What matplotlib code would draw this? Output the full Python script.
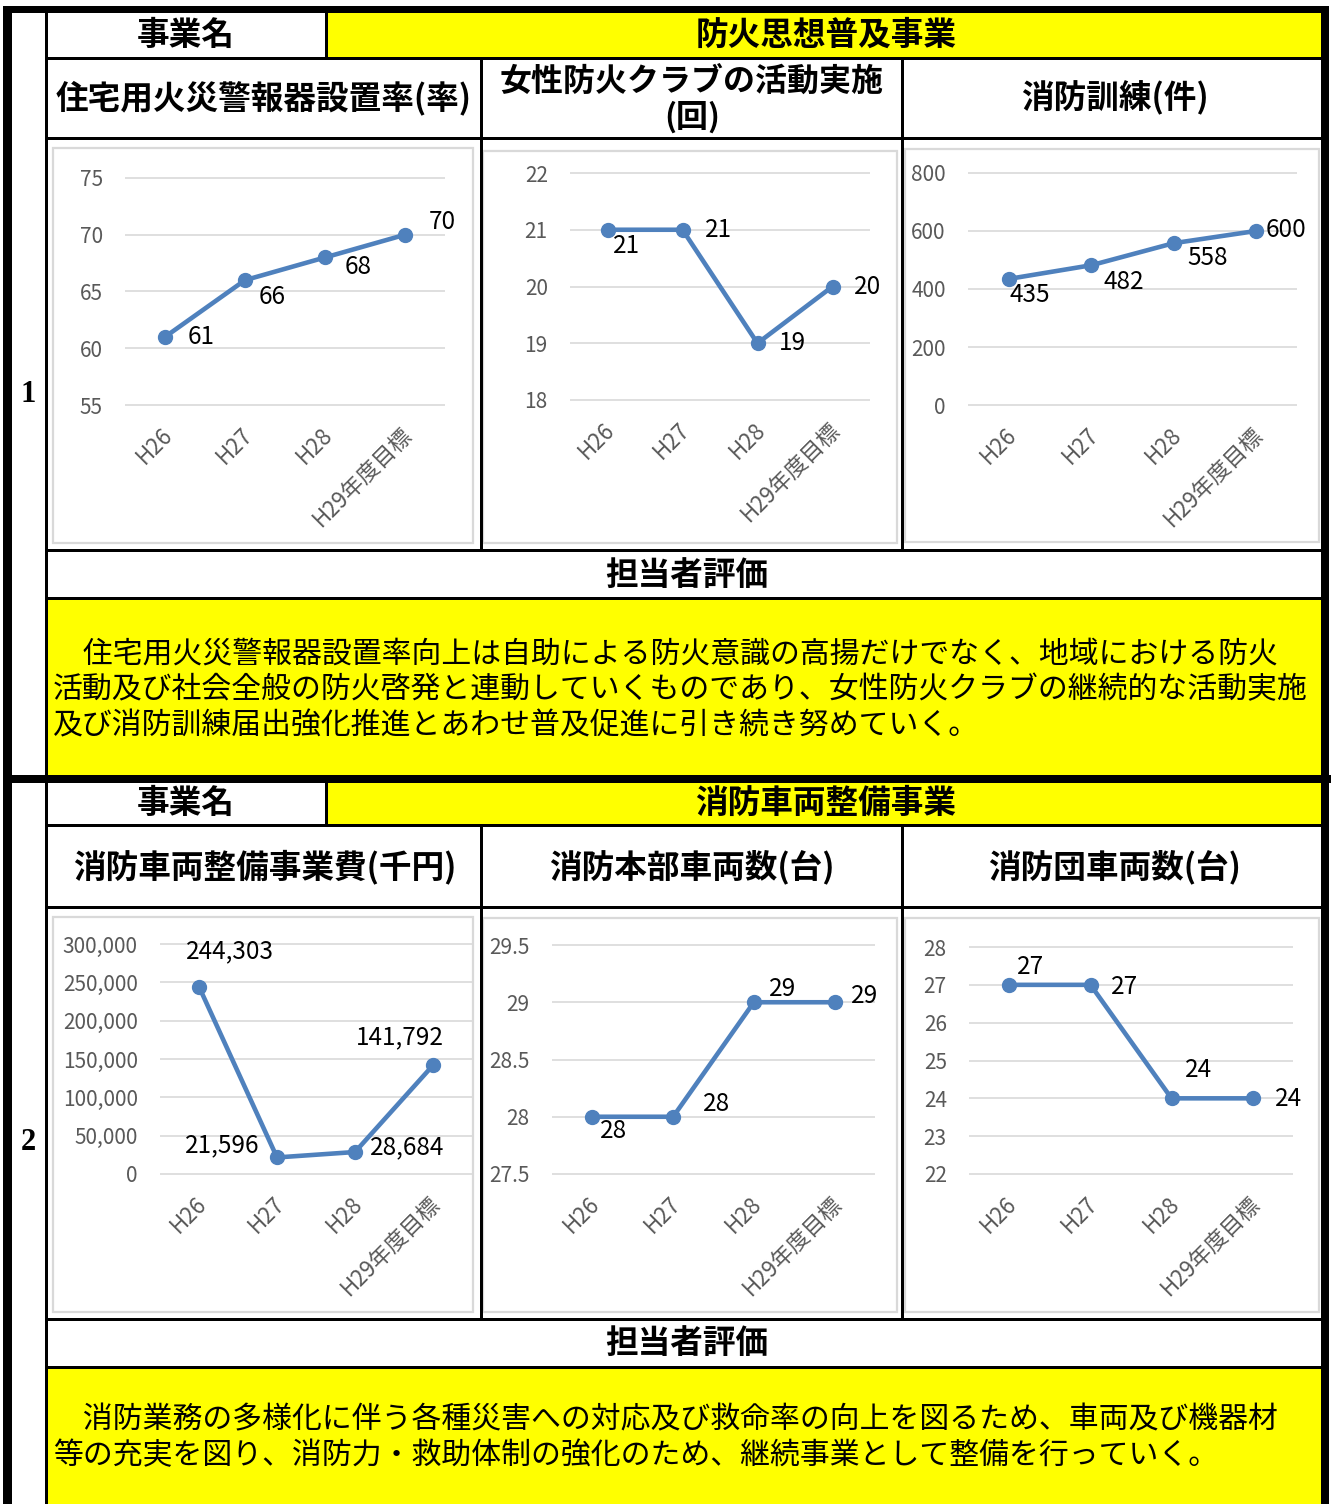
import matplotlib
matplotlib.use('Agg')
import matplotlib.pyplot as plt
from matplotlib.patches import Rectangle
from matplotlib.transforms import ScaledTranslation

plt.rcParams['font.family'] = ['Noto Sans CJK JP', 'DejaVu Sans']

# ---------------- data ----------------
categories = ['H26', 'H27', 'H28', 'H29年度目標']

project1_name = '防火思想普及事業'
project2_name = '消防車両整備事業'

title_c1 = '住宅用火災警報器設置率(率)'
title_c2 = '女性防火クラブの活動実施\n(回)'
title_c3 = '消防訓練(件)'
title_c4 = '消防車両整備事業費(千円)'
title_c5 = '消防本部車両数(台)'
title_c6 = '消防団車両数(台)'

values_c1 = [61, 66, 68, 70]
values_c2 = [21, 21, 19, 20]
values_c3 = [435, 482, 558, 600]
values_c4 = [244303, 21596, 28684, 141792]
values_c5 = [28, 28, 29, 29]
values_c6 = [27, 27, 24, 24]

ticks_c1 = [55, 60, 65, 70, 75]
ticks_c2 = [18, 19, 20, 21, 22]
ticks_c3 = [0, 200, 400, 600, 800]
ticks_c4 = [0, 50000, 100000, 150000, 200000, 250000, 300000]
ticks_c5 = [27.5, 28, 28.5, 29, 29.5]
ticks_c6 = [22, 23, 24, 25, 26, 27, 28]

eval1_lines = ['\u3000住宅用火災警報器設置率向上は自助による防火意識の高揚だけでなく、地域における防火',
               '活動及び社会全般の防火啓発と連動していくものであり、女性防火クラブの継続的な活動実施',
               '及び消防訓練届出強化推進とあわせ普及促進に引き続き努めていく。']
eval2_lines = ['\u3000消防業務の多様化に伴う各種災害への対応及び救命率の向上を図るため、車両及び機器材',
               '等の充実を図り、消防力・救助体制の強化のため、継続事業として整備を行っていく。']

# ---------------- layout / style ----------------
W, H = 1331, 1504
YEL = '#FFFF00'
LINEC = '#4F81BD'
GRID = '#D9D9D9'
TICKC = '#595959'

fig = plt.figure(figsize=(W / 100, H / 100), dpi=100)
bg = fig.add_axes([0, 0, 1, 1])
bg.set_xlim(0, W)
bg.set_ylim(H, 0)
bg.axis('off')


def rect(x0, y0, x1, y1, fc, ec='none', lw=0, z=1):
    bg.add_patch(Rectangle((x0, y0), x1 - x0, y1 - y0, facecolor=fc,
                           edgecolor=ec, linewidth=lw, zorder=z))


# yellow cells
rect(328, 13, 1321, 57, YEL)
rect(48, 600, 1321, 775, YEL)
rect(328, 783, 1321, 824, YEL)
rect(48, 1369, 1321, H, YEL)

# chart frames (light gray)
frames = [(53, 148, 473, 543), (483, 151, 897, 543), (905, 149, 1319, 542),
          (53, 917, 473, 1312), (483, 918, 897, 1312), (905, 918, 1319, 1312)]
for (x0, y0, x1, y1) in frames:
    rect(x0, y0, x1, y1, 'none', ec=GRID, lw=1.6, z=2)

K = 'black'
# outer borders
rect(3, 6, 1329, 13, K, z=3)
rect(3, 6, 12, H, K, z=3)
rect(1321, 6, 1329, H, K, z=3)
rect(45, 13, 48, H, K, z=3)
rect(3, 775, 1331, 783, K, z=3)
# section 1 rows
for y in (57, 137, 549, 597):
    rect(48, y, 1321, y + 3, K, z=3)
rect(325, 13, 328, 57, K, z=3)
for x in (480, 901):
    rect(x, 59, x + 2.5, 549, K, z=3)
# section 2 rows
for y in (824, 906, 1318, 1366):
    rect(48, y, 1321, y + 3, K, z=3)
rect(325, 783, 328, 824, K, z=3)
for x in (480, 901):
    rect(x, 826, x + 2.5, 1318, K, z=3)

# header texts
HF = dict(fontsize=23.5, fontweight='bold', ha='center', va='center', zorder=5)
bg.text(186, 35, '事業名', **HF)
bg.text(826, 35, project1_name, **HF)
bg.text(264, 98, title_c1, **HF)
bg.text(692, 100, title_c2, linespacing=1.1, fontsize=23, fontweight='bold',
        ha='center', va='center', zorder=5)
bg.text(1115, 98, title_c3, **HF)
bg.text(687, 575, '担当者評価', **HF)

bg.text(186, 803, '事業名', **HF)
bg.text(826, 803, project2_name, **HF)
bg.text(265, 867, title_c4, **HF)
bg.text(692, 867, title_c5, **HF)
bg.text(1115, 867, title_c6, **HF)
bg.text(687, 1343, '担当者評価', **HF)

bg.text(28, 395, '1', fontsize=22, family=['Liberation Serif'], fontweight='bold',
        ha='center', va='center', zorder=5)
bg.text(28, 1143, '2', fontsize=22, family=['Liberation Serif'], fontweight='bold',
        ha='center', va='center', zorder=5)

BF = dict(fontsize=21.5, ha='left', va='center', zorder=5)
for i, line in enumerate(eval1_lines):
    bg.text(53, 654 + 36 * i, line, **BF)
for i, line in enumerate(eval2_lines):
    bg.text(53, 1420 + 36 * i, line, **BF)


# ---------------- charts ----------------
def fmt_plain(v):
    return '{:g}'.format(v)


def fmt_comma(v):
    return '{:,}'.format(int(v))


def make_chart(box, values, ticks, fmt, offsets):
    x0, x1, yt, yb = box
    ax = fig.add_axes([x0 / W, 1 - yb / H, (x1 - x0) / W, (yb - yt) / H])
    ax.set_facecolor('none')
    ax.set_xlim(-0.5, 3.5)
    ax.set_ylim(ticks[0], ticks[-1])
    for s in ax.spines.values():
        s.set_visible(False)
    ax.hlines(ticks, -0.5, 3.5, colors=GRID, linewidth=1.2, clip_on=False, zorder=1)
    xs = list(range(len(categories)))
    ax.plot(xs, values, color=LINEC, linewidth=3.3, marker='o', markersize=10,
            clip_on=False, zorder=3, solid_capstyle='round')
    ax.set_yticks(ticks)
    ax.set_yticklabels([fmt(t) for t in ticks])
    ax.tick_params(axis='y', length=0, pad=16, labelsize=15, labelcolor=TICKC)
    ax.set_xticks(xs)
    labels = ax.set_xticklabels(categories, rotation=45, ha='right', va='center',
                                rotation_mode='anchor')
    ax.tick_params(axis='x', length=0, pad=19, labelsize=16, labelcolor=TICKC)
    shift = ScaledTranslation(4 / 100, 0, fig.dpi_scale_trans)
    for lab in labels:
        lab.set_transform(lab.get_transform() + shift)
    for i, v in enumerate(values):
        dx, dy = offsets[i]
        ax.annotate(fmt(v), (i, v), xytext=(dx, -dy), textcoords='offset pixels',
                    ha='center', va='center', fontsize=17.5, color='black',
                    annotation_clip=False, zorder=4)
    return ax


make_chart((125, 445, 178, 405), values_c1, ticks_c1, fmt_plain,
           [(36, 0), (27, 17), (33, 10), (37, -13)])
make_chart((570, 870, 173, 400), values_c2, ticks_c2, fmt_plain,
           [(19, 16), (36, 0), (35, 0), (35, 0)])
make_chart((968, 1297, 173, 405), values_c3, ticks_c3, fmt_plain,
           [(21, 16), (32, 17), (34, 15), (30, -1)])
make_chart((160, 472, 944, 1174), values_c4, ticks_c4, fmt_comma,
           [(31, -35), (-55, -12), (52, -5), (-33, -28)])
make_chart((552, 875, 945, 1174), values_c5, ticks_c5, fmt_plain,
           [(21, 14), (43, -13), (29, -13), (30, -6)])
make_chart((969, 1293, 947, 1174), values_c6, ticks_c6, fmt_plain,
           [(21, -18), (34, 2), (27, -28), (36, 1)])

fig.savefig('out.png', dpi=100)
